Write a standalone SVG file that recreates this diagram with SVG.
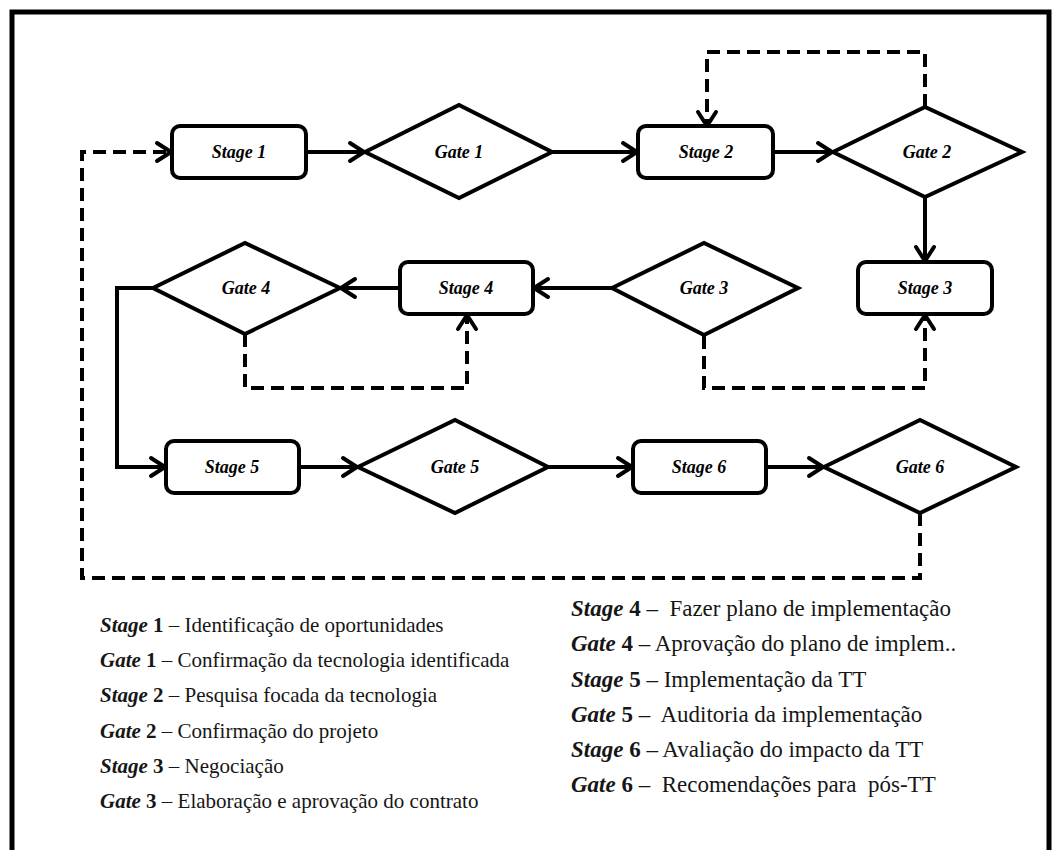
<svg xmlns="http://www.w3.org/2000/svg" width="1056" height="850" viewBox="0 0 1056 850">
<style>
.node{fill:#fff;stroke:#000;stroke-width:4}
.lbl{font-family:"Liberation Serif","Times New Roman",serif;font-weight:bold;font-style:italic;font-size:18px;text-anchor:middle;dominant-baseline:central;fill:#000}
.c{fill:none;stroke:#000;stroke-width:4}
.d{stroke-dasharray:13 7}
.leg{font-family:"Liberation Serif","Times New Roman",serif;fill:#161616;white-space:pre}
.l{font-size:21px}
.r{font-size:23px}
.bi{font-weight:bold;font-style:italic}
.b{font-weight:bold}
</style>
<defs>
<marker id="ah" markerUnits="userSpaceOnUse" markerWidth="22" markerHeight="24" viewBox="0 0 22 24" refX="19" refY="12" orient="auto">
<path d="M5,3 L19,12 L5,21" fill="none" stroke="#000" stroke-width="4" stroke-linecap="round" stroke-linejoin="round"/>
</marker>
</defs>
<rect x="0" y="0" width="1056" height="850" fill="#fff"/>
<rect x="12" y="12" width="1037" height="845" fill="none" stroke="#000" stroke-width="5"/>

<g id="connectors">
<line class="c" x1="306" y1="152" x2="364" y2="152" marker-end="url(#ah)"/>
<line class="c" x1="552" y1="152" x2="637" y2="152" marker-end="url(#ah)"/>
<line class="c" x1="773" y1="152" x2="832" y2="152" marker-end="url(#ah)"/>
<line class="c" x1="925" y1="197" x2="925" y2="261" marker-end="url(#ah)"/>
<line class="c" x1="612" y1="288" x2="534" y2="288" marker-end="url(#ah)"/>
<line class="c" x1="400" y1="288" x2="341" y2="288" marker-end="url(#ah)"/>
<path class="c" d="M153,288 H117 V467 H165" marker-end="url(#ah)"/>
<line class="c" x1="299" y1="467" x2="357" y2="467" marker-end="url(#ah)"/>
<line class="c" x1="548" y1="467" x2="632" y2="467" marker-end="url(#ah)"/>
<line class="c" x1="766" y1="467" x2="823" y2="467" marker-end="url(#ah)"/>
<path class="c d" d="M925,107 V52 H707 V126" marker-end="url(#ah)"/>
<path class="c d" d="M245,334 V388 H467 V315" marker-end="url(#ah)"/>
<path class="c d" d="M704,336 V388 H925 V315" marker-end="url(#ah)"/>
<path class="c d" d="M920,513 V578 H82 V152 H171" marker-end="url(#ah)"/>
</g>

<g id="stage1"><rect class="node" x="172" y="126" width="134" height="52" rx="8"/><text class="lbl" x="239" y="152">Stage 1</text></g>
<g id="gate1"><polygon class="node" points="365,152 459,105 552,152 459,198"/><text class="lbl" x="459" y="152">Gate 1</text></g>
<g id="stage2"><rect class="node" x="638" y="126" width="135" height="52" rx="8"/><text class="lbl" x="706" y="152">Stage 2</text></g>
<g id="gate2"><polygon class="node" points="833,152 925,107 1022,152 925,197"/><text class="lbl" x="927" y="152">Gate 2</text></g>
<g id="stage3"><rect class="node" x="858" y="262" width="134" height="52" rx="8"/><text class="lbl" x="925" y="288">Stage 3</text></g>
<g id="gate3"><polygon class="node" points="612,288 704,243 798,288 704,335"/><text class="lbl" x="704" y="288">Gate 3</text></g>
<g id="stage4"><rect class="node" x="400" y="262" width="133" height="52" rx="8"/><text class="lbl" x="466" y="288">Stage 4</text></g>
<g id="gate4"><polygon class="node" points="153,288 245,243 340,288 245,334"/><text class="lbl" x="246" y="288">Gate 4</text></g>
<g id="stage5"><rect class="node" x="166" y="441" width="133" height="52" rx="8"/><text class="lbl" x="232" y="467">Stage 5</text></g>
<g id="gate5"><polygon class="node" points="358,467 455,420 548,467 455,513"/><text class="lbl" x="455" y="467">Gate 5</text></g>
<g id="stage6"><rect class="node" x="633" y="441" width="133" height="52" rx="8"/><text class="lbl" x="699" y="467">Stage 6</text></g>
<g id="gate6"><polygon class="node" points="824,467 920,420 1016,467 920,513"/><text class="lbl" x="920" y="467">Gate 6</text></g>

<g id="legend">
<text class="leg l" x="100" y="632"><tspan class="bi">Stage</tspan><tspan class="b"> 1</tspan> – Identificação de oportunidades</text>
<text class="leg l" x="100" y="667"><tspan class="bi">Gate</tspan><tspan class="b"> 1</tspan> – Confirmação da tecnologia identificada</text>
<text class="leg l" x="100" y="702"><tspan class="bi">Stage</tspan><tspan class="b"> 2</tspan> – Pesquisa focada da tecnologia</text>
<text class="leg l" x="100" y="738"><tspan class="bi">Gate</tspan><tspan class="b"> 2</tspan> – Confirmação do projeto</text>
<text class="leg l" x="100" y="773"><tspan class="bi">Stage</tspan><tspan class="b"> 3</tspan> – Negociação</text>
<text class="leg l" x="100" y="808"><tspan class="bi">Gate</tspan><tspan class="b"> 3</tspan> – Elaboração e aprovação do contrato</text>
<text class="leg r" x="571" y="616"><tspan class="bi">Stage</tspan><tspan class="b"> 4</tspan> –  Fazer plano de implementação</text>
<text class="leg r" x="571" y="651"><tspan class="bi">Gate</tspan><tspan class="b"> 4</tspan> – Aprovação do plano de implem..</text>
<text class="leg r" x="571" y="687"><tspan class="bi">Stage</tspan><tspan class="b"> 5</tspan> – Implementação da TT</text>
<text class="leg r" x="571" y="722"><tspan class="bi">Gate</tspan><tspan class="b"> 5</tspan> –  Auditoria da implementação</text>
<text class="leg r" x="571" y="757"><tspan class="bi">Stage</tspan><tspan class="b"> 6</tspan> – Avaliação do impacto da TT</text>
<text class="leg r" x="571" y="792"><tspan class="bi">Gate</tspan><tspan class="b"> 6</tspan> –  Recomendações para  pós-TT</text>
</g>
</svg>
